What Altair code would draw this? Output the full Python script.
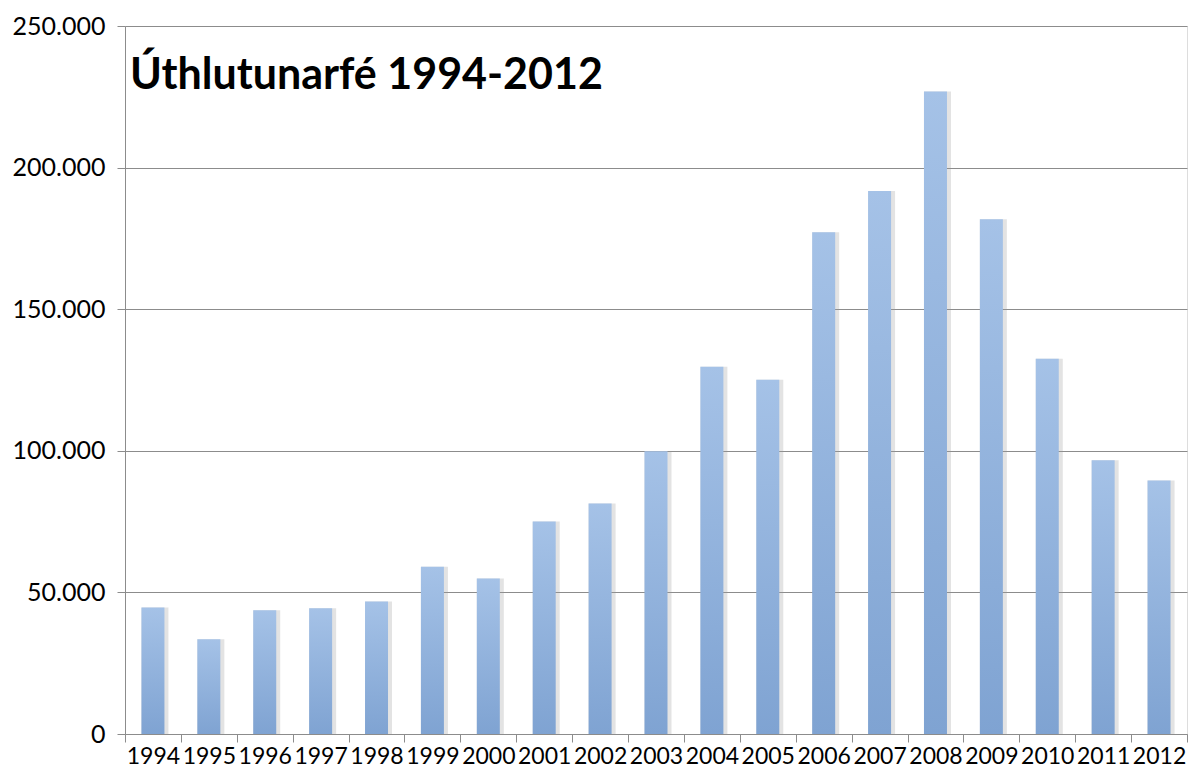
import altair as alt
import pandas as pd

years = [str(y) for y in range(1994, 2013)]
values = [44700, 33500, 43700, 44400, 46800, 59100, 54900, 75000, 81400, 99800,
          129700, 125100, 177200, 191700, 226900, 181800, 132500, 96700, 89500]
title_text = "Úthlutunarfé 1994-2012"
y_ticks = [0, 50000, 100000, 150000, 200000, 250000]

df = pd.DataFrame({"year": years, "value": values})

FONT = "Lato"

x = alt.X("year:N", sort=years, title=None,
          scale=alt.Scale(paddingInner=0, paddingOuter=0),
          axis=alt.Axis(labelAngle=0, tickBand="extent", tickSize=8, tickColor="#8c8c8c",
                        domainColor="#8c8c8c", labelFont=FONT, labelFontSize=23,
                        labelColor="#000000", labelPadding=3, labelBaseline="top",
                        grid=False, labelOverlap=False))
y = alt.Y("value:Q", title=None,
          scale=alt.Scale(domain=[0, 250000], nice=False),
          axis=alt.Axis(values=y_ticks, tickSize=8, tickColor="#8c8c8c",
                        domainColor="#8c8c8c", gridColor="#8c8c8c", gridWidth=1,
                        labelFont=FONT, labelFontSize=25, labelColor="#000000",
                        labelPadding=12,
                        labelExpr="replace(format(datum.value, ','), ',', '.')"))

shadow = alt.Chart(df).mark_bar(size=27, xOffset=2, color="#9a9a9a", opacity=0.28).encode(x=x, y=y)

bars = alt.Chart(df).mark_bar(
    size=23,
    color=alt.Gradient(
        gradient="linear", x1=0, x2=0, y1=0, y2=1,
        stops=[alt.GradientStop(color="#a5c2e7", offset=0),
               alt.GradientStop(color="#7fa3d2", offset=1)],
    ),
).encode(x=x, y=y)

title = alt.Chart(pd.DataFrame({"t": [title_text]})).mark_text(
    align="left", baseline="alphabetic", font=FONT, fontSize=43, fontWeight="bold",
    color="#000000"
).encode(text="t:N", x=alt.value(5), y=alt.value(63))

chart = alt.layer(shadow, bars, title).properties(
    width=1062, height=708,
    autosize=alt.AutoSizeParams(type="none"),
    padding={"left": 117, "top": 18, "right": 1, "bottom": 40},
).configure_view(stroke=None).configure(background="#ffffff")

chart.save("out.html", embed_options={"renderer": "svg", "actions": False})
